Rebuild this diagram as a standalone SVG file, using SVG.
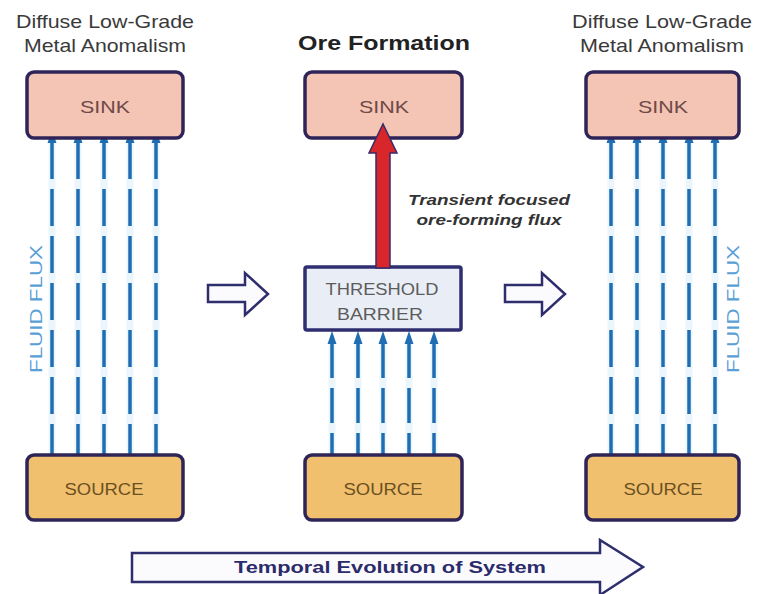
<svg xmlns="http://www.w3.org/2000/svg" width="758" height="594" viewBox="0 0 758 594">
<defs>
<style>
text{font-family:"Liberation Sans",Arial,sans-serif}
.title{font-size:19px;fill:#3a3a3a;text-anchor:middle}
.box{stroke:#2e2458;stroke-width:3.5}
.sink{fill:#f4c4b4}
.source{fill:#f1c06e}
.barrier{fill:#e9edf5;stroke:#2e2e70;stroke-width:3.5}
.lbl{font-size:17px;text-anchor:middle}
.halo{stroke:#eaf6fc;stroke-width:7;fill:none}
.flux{stroke:#1f6db3;stroke-width:3.5;fill:none;stroke-dasharray:37 10}
.fluxc{stroke:#1f6db3;stroke-width:3.5;fill:none;stroke-dasharray:35 10}
.hollow{fill:#fbfbfe;stroke:#2e2e6e;stroke-width:2.5;stroke-linejoin:miter}
.ff{font-size:17px;fill:#5a9fd6;text-anchor:middle}
</style>
<marker id="ah" markerUnits="userSpaceOnUse" markerWidth="12" markerHeight="14" refX="6" refY="12" orient="0" viewBox="0 0 12 14">
<polygon points="1.5,13 6,0 10.5,13" fill="#1f6db3"/>
</marker>
</defs>
<rect width="758" height="594" fill="#ffffff"/>

<g id="titles">
<text class="title" x="105" y="28" textLength="178" lengthAdjust="spacingAndGlyphs">Diffuse Low-Grade</text>
<text class="title" x="105" y="52" textLength="162" lengthAdjust="spacingAndGlyphs">Metal Anomalism</text>
<text class="title" x="384" y="50" style="font-weight:bold;font-size:20px;fill:#222" textLength="172" lengthAdjust="spacingAndGlyphs">Ore Formation</text>
<text class="title" x="662" y="28" textLength="180" lengthAdjust="spacingAndGlyphs">Diffuse Low-Grade</text>
<text class="title" x="662" y="52" textLength="164" lengthAdjust="spacingAndGlyphs">Metal Anomalism</text>
</g>

<g id="connectors">
<g id="left-flux">
<path class="halo" d="M52 142V460M78 142V460M104 142V460M130 142V460M156 142V460"/>
<path class="flux" d="M52 142V461" marker-start="url(#ah)"/>
<path class="flux" d="M78 142V461" marker-start="url(#ah)"/>
<path class="flux" d="M104 142V461" marker-start="url(#ah)"/>
<path class="flux" d="M130 142V461" marker-start="url(#ah)"/>
<path class="flux" d="M156 142V461" marker-start="url(#ah)"/>
</g>
<g id="center-flux">
<path class="halo" d="M332 343V460M358 343V460M383 343V460M409 343V460M434 343V460"/>
<path class="fluxc" d="M332 343V460" marker-start="url(#ah)"/>
<path class="fluxc" d="M358 343V460" marker-start="url(#ah)"/>
<path class="fluxc" d="M383 343V460" marker-start="url(#ah)"/>
<path class="fluxc" d="M409 343V460" marker-start="url(#ah)"/>
<path class="fluxc" d="M434 343V460" marker-start="url(#ah)"/>
</g>
<g id="right-flux">
<path class="halo" d="M611 142V460M637 142V460M663 142V460M689 142V460M715 142V460"/>
<path class="flux" d="M611 142V461" marker-start="url(#ah)"/>
<path class="flux" d="M637 142V461" marker-start="url(#ah)"/>
<path class="flux" d="M663 142V461" marker-start="url(#ah)"/>
<path class="flux" d="M689 142V461" marker-start="url(#ah)"/>
<path class="flux" d="M715 142V461" marker-start="url(#ah)"/>
</g>
<polygon id="step-arrow-1" class="hollow" points="208,285 245,285 245,273 268,294 245,315 245,302 208,302"/>
<polygon id="step-arrow-2" class="hollow" points="505,285 542,285 542,273 565,294 542,315 542,302 505,302"/>
</g>

<g id="sink-left">
<rect class="box sink" x="27" y="72" width="156" height="66" rx="7"/>
<text class="lbl" x="105" y="113" fill="#6e4a48" textLength="50" lengthAdjust="spacingAndGlyphs">SINK</text>
</g>
<g id="sink-center">
<rect class="box sink" x="305" y="72" width="157" height="66" rx="7"/>
<text class="lbl" x="384" y="113" fill="#6e4a48" textLength="50" lengthAdjust="spacingAndGlyphs">SINK</text>
</g>
<g id="sink-right">
<rect class="box sink" x="586" y="72" width="153" height="66" rx="7"/>
<text class="lbl" x="663" y="113" fill="#6e4a48" textLength="50" lengthAdjust="spacingAndGlyphs">SINK</text>
</g>

<g id="source-left">
<rect class="box source" x="27" y="455" width="156" height="65" rx="7"/>
<text class="lbl" x="104" y="495" fill="#6b5022" textLength="79" lengthAdjust="spacingAndGlyphs">SOURCE</text>
</g>
<g id="source-center">
<rect class="box source" x="305" y="455" width="157" height="65" rx="7"/>
<text class="lbl" x="383" y="495" fill="#6b5022" textLength="79" lengthAdjust="spacingAndGlyphs">SOURCE</text>
</g>
<g id="source-right">
<rect class="box source" x="586" y="455" width="153" height="65" rx="7"/>
<text class="lbl" x="663" y="495" fill="#6b5022" textLength="79" lengthAdjust="spacingAndGlyphs">SOURCE</text>
</g>

<g id="threshold-barrier">
<rect class="barrier" x="305" y="267" width="156" height="63" rx="2"/>
<text class="lbl" x="382" y="295" fill="#5c5c5c" textLength="113" lengthAdjust="spacingAndGlyphs">THRESHOLD</text>
<text class="lbl" x="380" y="320" fill="#5c5c5c" textLength="86" lengthAdjust="spacingAndGlyphs">BARRIER</text>
</g>

<g id="ore-flux">
<polygon points="376,268 376,153 369,153 383,124 397,153 390,153 390,268" fill="#d8262a" stroke="#3a2a6a" stroke-width="1.5" stroke-linejoin="miter"/>
<text x="489" y="205" style="font-size:15px;font-weight:bold;font-style:italic;fill:#333;text-anchor:middle" textLength="162" lengthAdjust="spacingAndGlyphs">Transient focused</text>
<text x="489" y="225" style="font-size:15px;font-weight:bold;font-style:italic;fill:#333;text-anchor:middle" textLength="145" lengthAdjust="spacingAndGlyphs">ore-forming flux</text>
</g>

<g id="fluid-flux-labels">
<text class="ff" transform="translate(42,309) rotate(-90)" textLength="128" lengthAdjust="spacingAndGlyphs">FLUID FLUX</text>
<text class="ff" transform="translate(739,309) rotate(-90)" textLength="128" lengthAdjust="spacingAndGlyphs">FLUID FLUX</text>
</g>

<g id="temporal-evolution">
<polygon class="hollow" points="132,553 600,553 600,540 643,567 600,595 600,582 132,582"/>
<text x="390" y="573" style="font-size:17px;font-weight:bold;fill:#2b2b6b;text-anchor:middle" textLength="312" lengthAdjust="spacingAndGlyphs">Temporal Evolution of System</text>
</g>
</svg>
